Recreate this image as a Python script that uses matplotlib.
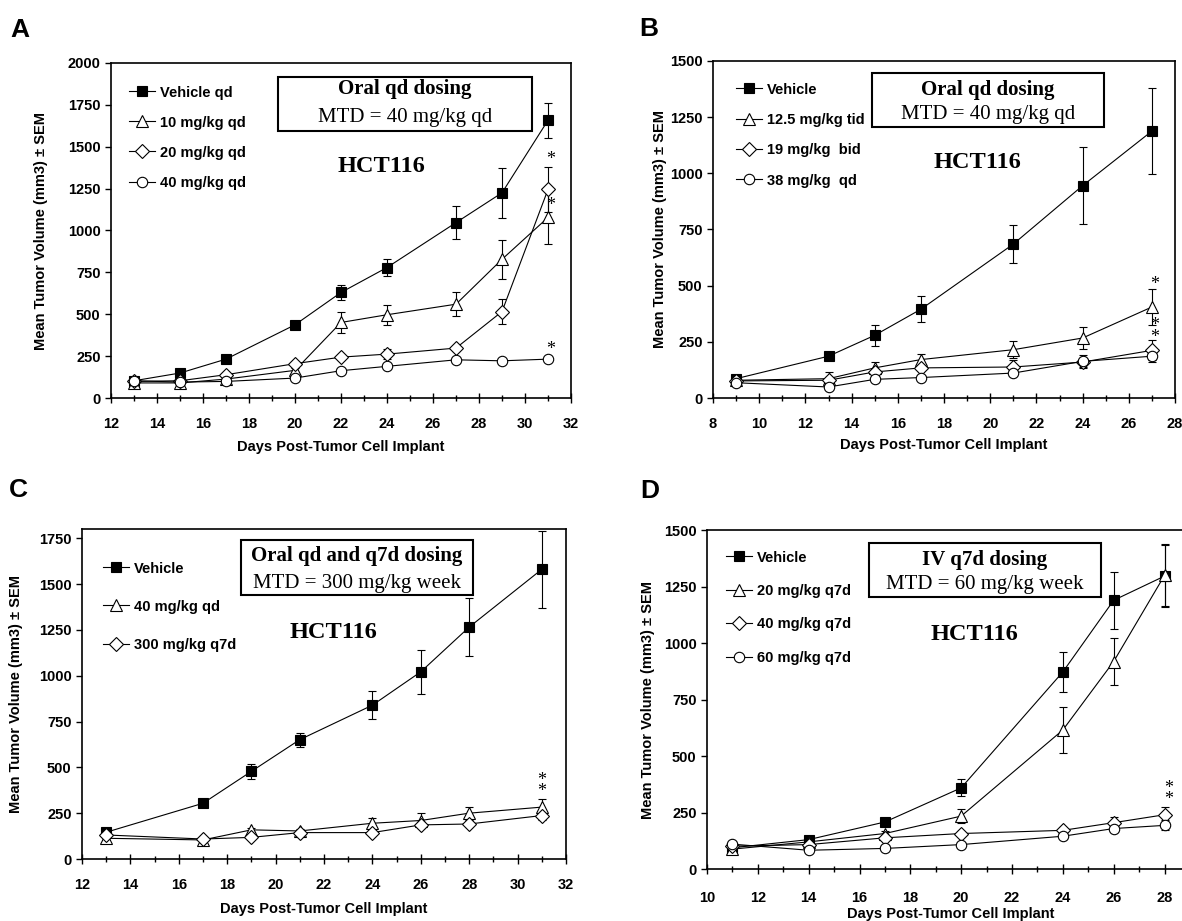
import matplotlib
matplotlib.use("Agg")
import matplotlib.pyplot as plt
from matplotlib.patches import Rectangle
from matplotlib.ticker import MultipleLocator

# ---------------- data ----------------
days_A = [13, 15, 17, 20, 22, 24, 27, 29, 31]
veh_A = [103, 149, 232, 437, 630, 779, 1047, 1225, 1658]
veh_A_err = [12, 15, 15, 18, 45, 50, 97, 150, 105]
d10_A = [90, 90, 113, 165, 451, 497, 560, 828, 1078]
d10_A_err = [10, 10, 10, 15, 65, 60, 70, 115, 160]
d20_A = [99, 103, 139, 205, 244, 262, 298, 516, 1245]
d20_A_err = [10, 10, 10, 12, 15, 30, 15, 75, 135]
d40_A = [103, 95, 99, 119, 163, 189, 228, 222, 232]
d40_A_err = [8, 8, 8, 10, 10, 12, 10, 10, 10]
labels_A = ["Vehicle qd", "10 mg/kg qd", "20 mg/kg qd", "40 mg/kg qd"]

days_B = [9, 13, 15, 17, 21, 24, 27]
veh_B = [86, 186, 279, 395, 685, 945, 1188]
veh_B_err = [8, 15, 48, 58, 85, 172, 190]
tid_B = [79, 86, 134, 171, 215, 267, 405]
tid_B_err = [8, 30, 25, 25, 38, 50, 78]
bid_B = [76, 79, 116, 134, 138, 160, 212]
bid_B_err = [8, 15, 15, 12, 30, 20, 45]
qd_B = [68, 49, 83, 91, 111, 163, 186]
qd_B_err = [8, 8, 10, 10, 10, 28, 25]
labels_B = ["Vehicle", "12.5 mg/kg tid", "19 mg/kg  bid", "38 mg/kg  qd"]

days_C = [13, 17, 19, 21, 24, 26, 28, 31]
veh_C = [146, 304, 478, 651, 839, 1021, 1265, 1580]
veh_C_err = [12, 15, 40, 38, 75, 120, 158, 210]
qd40_C = [113, 104, 159, 153, 195, 210, 250, 283]
qd40_C_err = [8, 8, 12, 10, 30, 40, 35, 45]
q7d300_C = [131, 109, 118, 144, 144, 186, 191, 237]
q7d300_C_err = [8, 8, 8, 10, 10, 15, 15, 25]
labels_C = ["Vehicle", "40 mg/kg qd", "300 mg/kg q7d"]

days_D = [11, 14, 17, 20, 24, 26, 28]
veh_D = [94, 130, 208, 359, 872, 1189, 1296]
veh_D_err = [8, 10, 12, 38, 88, 126, 137]
q7d20_D = [88, 120, 157, 234, 615, 918, 1299]
q7d20_D_err = [8, 10, 12, 30, 103, 106, 137]
q7d40_D = [101, 108, 138, 157, 171, 205, 240]
q7d40_D_err = [8, 8, 10, 10, 15, 25, 33]
q7d60_D = [110, 83, 91, 108, 145, 179, 193]
q7d60_D_err = [8, 8, 8, 8, 10, 15, 22]
labels_D = ["Vehicle", "20 mg/kg q7d", "40 mg/kg q7d", "60 mg/kg q7d"]

# significance asterisks: (day, volume, text)
stars_A = [(31.1, 1421, "*"), (31.1, 1152, "*"), (31.1, 292, "*")]
stars_B = [(27.1, 507, "*"), (27.1, 296, "*\n*")]
stars_C = [(31.0, 399, "*\n*")]
stars_D = [(28.15, 330, "*\n*")]

# ---------------- style ----------------
W, H = 1182, 921
plt.rcParams["font.family"] = ["Liberation Sans", "DejaVu Sans"]
plt.rcParams["font.weight"] = "bold"
SERIF = ["Liberation Serif", "DejaVu Serif"]

fig = plt.figure(figsize=(W / 100, H / 100), dpi=100)


def fx(x):
    return x / W


def fy(y):
    return 1 - y / H


def add_axes_px(l, t, r, b):
    return fig.add_axes([l / W, 1 - b / H, (r - l) / W, (b - t) / H])


MARKERS = [
    dict(marker="s", ms=7.5, mfc="black"),
    dict(marker="^", ms=8, mfc="white"),
    dict(marker="D", ms=6.8, mfc="white"),
    dict(marker="o", ms=7.5, mfc="white"),
]


def panel(box, xlim, ylim, ytick_max, xmajor, days, series, errs, labels,
          marker_idx, leg, title, hct, stars, letter, ylab_x, xlab_y,
          xpad, hide_right=False):
    l, t, r, b = box
    ax = add_axes_px(l, t, r, b)
    for i, (vals, err, lab, mi) in enumerate(zip(series, errs, labels, marker_idx)):
        ax.errorbar(days, vals, yerr=err, fmt="none", ecolor="black",
                    elinewidth=0.8, capsize=3, capthick=0.8, zorder=2 + i * 0.1)
        st = MARKERS[mi]
        ax.plot(days, vals, color="black", lw=0.8, marker=st["marker"],
                ms=st["ms"], mfc=st["mfc"], mec="black", mew=0.8,
                label=lab, zorder=3 + i * 0.1)
    ax.set_xlim(*xlim)
    ax.set_ylim(*ylim)
    ax.xaxis.set_major_locator(MultipleLocator(xmajor))
    ax.xaxis.set_minor_locator(MultipleLocator(1))
    ax.set_yticks(list(range(0, ytick_max + 1, 250)))
    ax.tick_params(axis="x", which="major", direction="inout", length=7,
                   width=1, pad=xpad, labelsize=10.5)
    ax.tick_params(axis="x", which="minor", direction="inout", length=5, width=1)
    ax.tick_params(axis="y", which="major", direction="out", length=4.5,
                   width=1, pad=3, labelsize=10.5)
    for lab in ax.get_xticklabels() + ax.get_yticklabels():
        lab.set_fontweight("bold")
    for s in ax.spines.values():
        s.set_linewidth(1.2)
    if hide_right:
        ax.spines["right"].set_visible(False)
    ax.set_ylabel("Mean Tumor Volume (mm3) \u00b1 SEM", fontsize=10.5,
                  fontweight="bold")
    ax.set_xlabel("Days Post-Tumor Cell Implant", fontsize=10.5,
                  fontweight="bold")
    ax.yaxis.set_label_coords((ylab_x - l) / (r - l), 0.5)
    ax.xaxis.set_label_coords(0.5, -(xlab_y - b) / (b - t))

    lx, ly, lsp = leg
    ax.legend(loc="upper left", bbox_to_anchor=(fx(lx), fy(ly)),
              bbox_transform=fig.transFigure, frameon=False, borderpad=0,
              borderaxespad=0, handlelength=1.8, handletextpad=0.35,
              labelspacing=lsp, numpoints=1,
              prop=dict(family="Liberation Sans", weight="bold", size=10.5))

    # annotation box
    (bl, bt, br, bb), (t1, t1y), (t2, t2y) = title
    fig.add_artist(Rectangle((fx(bl), fy(bb)), (br - bl) / W, (bb - bt) / H,
                             transform=fig.transFigure, fill=False,
                             edgecolor="black", lw=1.5))
    cx = (bl + br) / 2
    fig.text(fx(cx), fy(t1y), t1, ha="center", va="baseline", family=SERIF,
             fontweight="bold", fontsize=15)
    fig.text(fx(cx), fy(t2y), t2, ha="center", va="baseline", family=SERIF,
             fontweight="normal", fontsize=15)
    hx, hy = hct
    fig.text(fx(hx), fy(hy), "HCT116", ha="center", va="baseline", family=SERIF,
             fontweight="bold", fontsize=17.5)
    for sx, sy, stxt in stars:
        ax.text(sx, sy, stxt, ha="center", va="center", family=SERIF,
                fontsize=13, fontweight="normal", linespacing=0.55)
    lt, ltx, lty = letter
    fig.text(fx(ltx), fy(lty), lt, ha="center", va="baseline",
             fontsize=19, fontweight="bold")
    return ax


panel((111, 63, 571, 398), (12, 32), (0, 2000), 2000, 2, days_A,
      [veh_A, d10_A, d20_A, d40_A],
      [veh_A_err, d10_A_err, d20_A_err, d40_A_err], labels_A, [0, 1, 2, 3],
      (129, 85.5, 1.1),
      ((278, 77, 532, 131), ("Oral qd dosing", 94), ("MTD = 40 mg/kg qd", 122)),
      (381, 172), stars_A, ("A", 20, 37), 48, 439.5, 10.5)

panel((713, 61, 1175, 398), (8, 28), (0, 1500), 1500, 2, days_B,
      [veh_B, tid_B, bid_B, qd_B],
      [veh_B_err, tid_B_err, bid_B_err, qd_B_err], labels_B, [0, 1, 2, 3],
      (736, 82.5, 1.12),
      ((872, 73, 1104, 127), ("Oral qd dosing", 95), ("MTD = 40 mg/kg qd", 119)),
      (977, 168), stars_B, ("B", 649, 36), 667, 438.5, 10)

panel((82, 529, 566, 859), (12, 32), (0, 1800), 1750, 2, days_C,
      [veh_C, qd40_C, q7d300_C],
      [veh_C_err, qd40_C_err, q7d300_C_err], labels_C, [0, 1, 2],
      (103, 561.5, 1.65),
      ((241, 540, 473, 595), ("Oral qd and q7d dosing", 561),
       ("MTD = 300 mg/kg week", 588)),
      (333, 638), stars_C, ("C", 18, 497), 23, 901.5, 10.5)

panel((707, 530, 1195, 869), (10, 29.2), (0, 1500), 1500, 2, days_D,
      [veh_D, q7d20_D, q7d40_D, q7d60_D],
      [veh_D_err, q7d20_D_err, q7d40_D_err, q7d60_D_err], labels_D, [0, 1, 2, 3],
      (726, 550.5, 1.33),
      ((869, 543, 1101, 597), ("IV q7d dosing", 565),
       ("MTD = 60 mg/kg week", 589)),
      (974, 640), stars_D, ("D", 650, 498), 655, 906.5, 12.5, hide_right=True)

fig.savefig("out.png", dpi=100)
